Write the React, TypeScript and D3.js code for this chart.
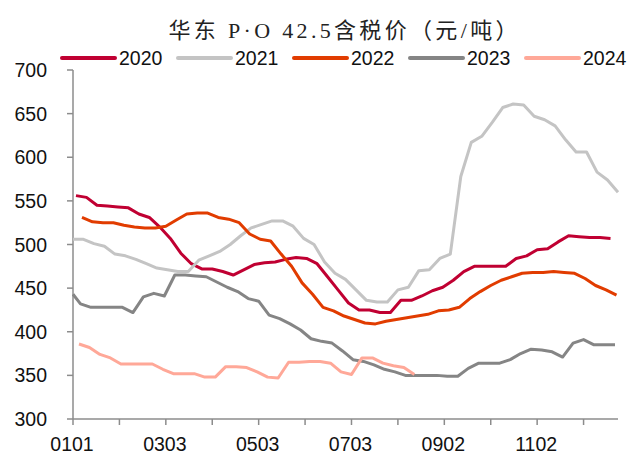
import React from 'react';
import * as d3 from 'd3';

// weekly prices (Friday quotes), 元/吨
const years = ['2020', '2021', '2022', '2023', '2024'];
const colors = ['#C00032', '#C4C4C4', '#E13C00', '#858585', '#FFA898'];
// first quote dates as day-of-year; after the last one, one quote every 7 days
const startDays = [[2], [0], [6], [0, 5], [4]];

const v2020 = [556, 554, 545, 544, 543, 542, 535, 531, 520, 507, 490, 478, 472, 472, 469, 465, 471, 477, 479, 480, 483, 485, 484, 478, 463, 448, 433, 425, 425, 422, 422, 436, 436, 441, 447, 451, 459, 469, 475, 475, 475, 475, 484, 487, 494, 495, 503, 510, 509, 508, 508, 507];
const v2021 = [506, 506, 501, 498, 489, 487, 483, 478, 473, 471, 469, 469, 482, 487, 492, 500, 510, 519, 523, 527, 527, 521, 507, 500, 480, 467, 460, 448, 436, 434, 434, 448, 451, 470, 471, 484, 489, 578, 617, 624, 640, 657, 661, 660, 647, 643, 636, 620, 606, 606, 583, 574, 560];
const v2022 = [531, 526, 525, 525, 522, 520, 519, 519, 521, 528, 535, 536, 536, 531, 529, 525, 512, 506, 504, 489, 475, 456, 443, 428, 424, 418, 414, 410, 409, 412, 414, 416, 418, 420, 424, 425, 428, 438, 446, 453, 459, 463, 467, 468, 468, 469, 468, 467, 461, 453, 448, 442];
const v2023 = [443, 432, 428, 428, 428, 428, 422, 440, 444, 441, 465, 465, 464, 463, 457, 451, 446, 438, 435, 419, 415, 409, 402, 392, 389, 387, 378, 368, 366, 362, 357, 354, 350, 350, 350, 350, 349, 349, 358, 364, 364, 364, 368, 375, 380, 379, 377, 371, 387, 391, 385, 385, 385];
const v2024 = [386, 382, 374, 370, 363, 363, 363, 363, 357, 352, 352, 352, 348, 348, 360, 360, 359, 354, 348, 347, 365, 365, 366, 366, 364, 354, 351, 370, 370, 364, 361, 359, 351];
const values = [v2020, v2021, v2022, v2023, v2024];

const yTicks = [300, 350, 400, 450, 500, 550, 600, 650, 700];
const xTickDays = [0, 31, 62, 93, 124, 155, 186, 217, 248, 279, 310, 341];
const xLabels = ['0101', '', '0303', '', '0503', '', '0703', '', '0902', '', '1102', ''];

const title = '华东 P·O 42.5含税价（元/吨）';

const W = 631;
const H = 455;
const font = '"Liberation Sans", Arial, sans-serif';

function dayOf(s: number, j: number) {
  const starts = startDays[s];
  if (j < starts.length) return starts[j];
  return starts[starts.length - 1] + 7 * (j - starts.length + 1);
}

export default function App() {
  const x = d3.scaleLinear().domain([0, 364]).range([73, 618]);
  const y = d3.scaleLinear().domain([300, 700]).range([419, 70]);
  const axisColor = '#8c8c8c';

  return (
    <svg width={W} height={H} style={{ position: 'absolute', left: 0, top: 0, background: '#fff' }}>
      <text
        x={343}
        y={38}
        textAnchor="middle"
        fontSize={22}
        fontFamily='"Liberation Serif", "Noto Sans CJK SC", serif'
        textLength={349}
        lengthAdjust="spacing"
        fill="#222"
      >
        {title}
      </text>

      {/* legend */}
      {years.map((yr, i) => {
        const lx = 62 + i * 116;
        return (
          <g key={yr}>
            <line x1={lx} x2={lx + 53} y1={58} y2={58} stroke={colors[i]} strokeWidth={4} strokeLinecap="round" />
            <text x={lx + 57} y={65} fontSize={19.5} fontFamily={font} fill="#111">
              {yr}
            </text>
          </g>
        );
      })}

      {/* y axis */}
      <line x1={x(0)} x2={x(0)} y1={y(700)} y2={y(300)} stroke={axisColor} strokeWidth={1.5} />
      {yTicks.map((t) => (
        <g key={t}>
          <line x1={x(0) - 6} x2={x(0)} y1={y(t)} y2={y(t)} stroke={axisColor} strokeWidth={1.5} />
          <text x={47} y={y(t) + 7} textAnchor="end" fontSize={19.5} fontFamily={font} fill="#111">
            {t}
          </text>
        </g>
      ))}

      {/* x axis */}
      <line x1={x(0)} x2={x(364)} y1={y(300)} y2={y(300)} stroke={axisColor} strokeWidth={1.5} />
      {xTickDays.map((d, i) => (
        <g key={d}>
          <line x1={x(d)} x2={x(d)} y1={y(300)} y2={y(300) + 6} stroke={axisColor} strokeWidth={1.5} />
          {xLabels[i] && (
            <text x={x(d) - 1} y={451} textAnchor="middle" fontSize={19.5} fontFamily={font} fill="#111">
              {xLabels[i]}
            </text>
          )}
        </g>
      ))}

      {/* series */}
      {values.map((vals, s) => {
        const line = d3
          .line<number>()
          .x((_, j) => x(dayOf(s, j)))
          .y((v) => y(v));
        return (
          <path
            key={years[s]}
            d={line(vals) || ''}
            fill="none"
            stroke={colors[s]}
            strokeWidth={3}
            strokeLinejoin="round"
          />
        );
      })}
    </svg>
  );
}
